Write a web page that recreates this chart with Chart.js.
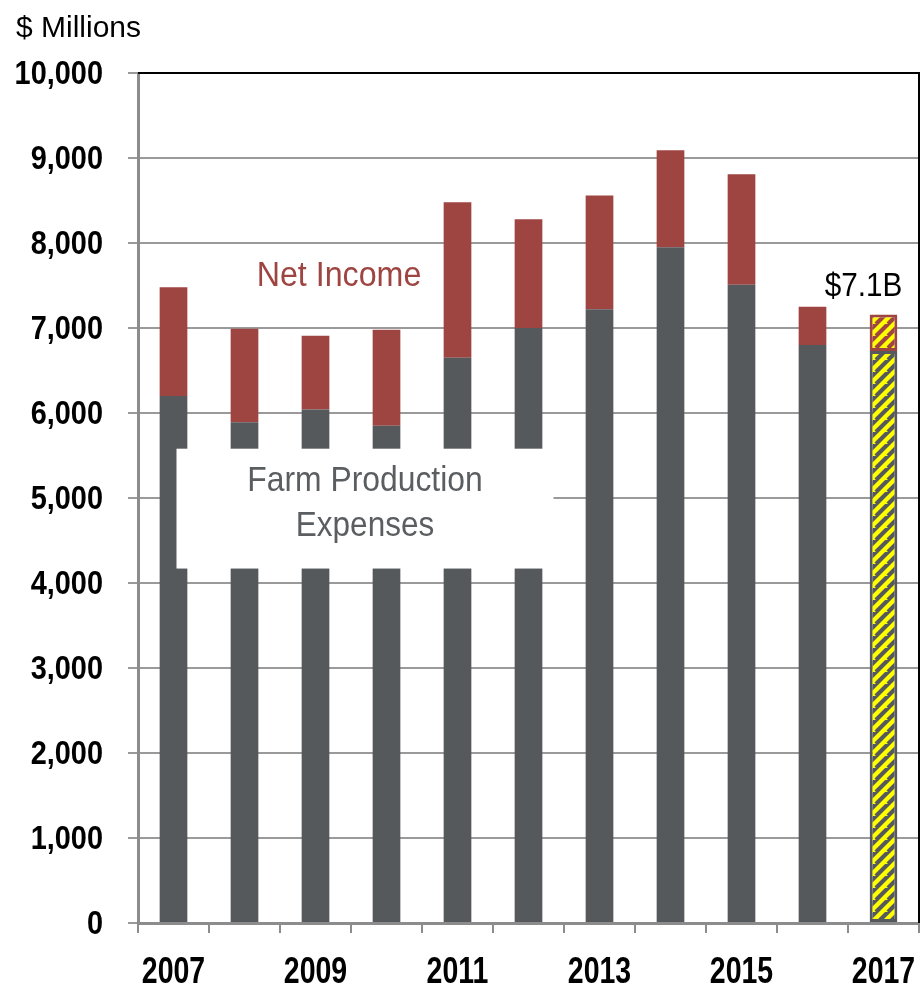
<!DOCTYPE html>
<html>
<head>
<meta charset="utf-8">
<script src="https://cdn.jsdelivr.net/npm/chart.js@4.4.0/dist/chart.umd.min.js"></script>
<style>
  html, body { margin: 0; padding: 0; background: #fff; }
  #wrap { width: 920px; height: 987px; }
</style>
</head>
<body>
<div id="wrap"><canvas id="farmChart" width="920" height="987"></canvas></div>
<script>
// data ($ millions)
const years = ["2007", "2008", "2009", "2010", "2011", "2012", "2013", "2014", "2015", "2016", "2017"];
const expenses = [6200, 5890, 6040, 5850, 6650, 7000, 7220, 7950, 7510, 6800, 6730];
const netIncome = [1280, 1100, 870, 1130, 1830, 1280, 1340, 1140, 1300, 450, 430];
const yTicks = [0, 1000, 2000, 3000, 4000, 5000, 6000, 7000, 8000, 9000, 10000];

const GRAY = "#56595c";
const RED = "#9e4542";
const YELLOW = "#ffff00";
const FONT = "'Liberation Sans', Arial, sans-serif";

// striped fill for the forecast year
function stripes(stripeColor) {
  const n = 12;
  const c = document.createElement("canvas");
  c.width = n; c.height = n;
  const g = c.getContext("2d");
  g.fillStyle = YELLOW;
  g.fillRect(0, 0, n, n);
  g.strokeStyle = stripeColor;
  g.lineWidth = 4.2;
  g.beginPath();
  for (let k = -n; k <= 2 * n; k += n) {
    g.moveTo(k - n, n);
    g.lineTo(k + n, -n);
  }
  g.stroke();
  return g.createPattern(c, "repeat");
}
const grayStripes = stripes(GRAY);
const redStripes = stripes(RED);
const last = years.length - 1;

// condensed-looking text: squeeze horizontally
function squeezed(ctx, text, x, y, font, sx, align, color) {
  ctx.save();
  ctx.translate(x, y);
  ctx.scale(sx, 1);
  ctx.font = font;
  ctx.textAlign = align;
  ctx.textBaseline = "alphabetic";
  ctx.fillStyle = color;
  ctx.fillText(text, 0, 0);
  ctx.restore();
}

// white label box, tick labels, text labels and frame
const overlay = {
  id: "overlay",
  afterDatasetsDraw(chart) {
    const { ctx, chartArea: a, scales: { x, y } } = chart;
    ctx.save();
    // white box over the bars
    const bx0 = x.getPixelForValue(0) + 3;
    const bx1 = x.getPixelForValue(5) + 25;
    const by0 = y.getPixelForValue(5580);
    const by1 = y.getPixelForValue(4170);
    ctx.fillStyle = "#fff";
    ctx.fillRect(bx0, by0, bx1 - bx0, by1 - by0);
    ctx.restore();

    const cx = bx0 + (bx1 - bx0) * 0.5;
    squeezed(ctx, "Farm Production", cx, y.getPixelForValue(5080), "35px " + FONT, 0.91, "center", "#5b5e61");
    squeezed(ctx, "Expenses", cx, y.getPixelForValue(4550), "35px " + FONT, 0.9, "center", "#5b5e61");
    squeezed(ctx, "Net Income", (x.getPixelForValue(2) + x.getPixelForValue(3)) / 2 - 12,
      y.getPixelForValue(7490), "35px " + FONT, 0.92, "center", RED);
    squeezed(ctx, "$7.1B", x.getPixelForValue(last) - 20, y.getPixelForValue(7380),
      "33px " + FONT, 0.9, "center", "#000");
    squeezed(ctx, "$ Millions", 16, 37, "30px " + FONT, 1.0, "left", "#000");

    // tick labels
    yTicks.forEach((v) => {
      squeezed(ctx, v.toLocaleString("en-US"), a.left - 35, y.getPixelForValue(v) + 11,
        "bold 34px " + FONT, 0.85, "right", "#000");
    });
    years.forEach((yr, i) => {
      if (i % 2 === 0) {
        squeezed(ctx, yr, x.getPixelForValue(i), a.bottom + 60, "bold 37px " + FONT, 0.77, "center", "#000");
      }
    });

    // black frame top and right
    ctx.save();
    ctx.strokeStyle = "#000";
    ctx.lineWidth = 2;
    ctx.beginPath();
    ctx.moveTo(a.left, a.top);
    ctx.lineTo(a.right, a.top);
    ctx.lineTo(a.right, a.bottom);
    ctx.stroke();
    ctx.restore();
  }
};

new Chart(document.getElementById("farmChart").getContext("2d"), {
  type: "bar",
  data: {
    labels: years,
    datasets: [
      {
        label: "Farm Production Expenses",
        data: expenses,
        backgroundColor: years.map((_, i) => (i === last ? grayStripes : GRAY)),
        borderColor: GRAY,
        borderWidth: years.map((_, i) => (i === last ? 3 : 0)),
        borderSkipped: false,
        barPercentage: 0.39,
        categoryPercentage: 1,
      },
      {
        label: "Net Income",
        data: netIncome,
        backgroundColor: years.map((_, i) => (i === last ? redStripes : RED)),
        borderColor: RED,
        borderWidth: years.map((_, i) => (i === last ? 3 : 0)),
        borderSkipped: false,
        barPercentage: 0.39,
        categoryPercentage: 1,
      },
    ],
  },
  options: {
    responsive: false,
    animation: false,
    layout: { padding: { left: 0, top: 73, right: 1, bottom: 0 } },
    plugins: { legend: { display: false }, tooltip: { enabled: false } },
    scales: {
      x: {
        stacked: true,
        offset: true,
        grid: {
          offset: true,
          drawOnChartArea: false,
          color: "#8c8c8c",
          lineWidth: 2,
          tickLength: 10,
        },
        border: { color: "#8c8c8c", width: 3 },
        ticks: { display: false, autoSkip: false },
        afterFit: (s) => { s.height = 64; s.paddingLeft = 0; s.paddingRight = 0; },
      },
      y: {
        stacked: true,
        min: 0,
        max: 10000,
        afterBuildTicks: (s) => { s.ticks = yTicks.map((v) => ({ value: v })); },
        grid: { color: "#9a9a9a", lineWidth: 2, tickLength: 10 },
        border: { color: "#8c8c8c", width: 3 },
        ticks: { display: false },
        afterFit: (s) => { s.width = 138; s.paddingTop = 0; s.paddingBottom = 0; },
      },
    },
  },
  plugins: [overlay],
});
</script>
</body>
</html>
